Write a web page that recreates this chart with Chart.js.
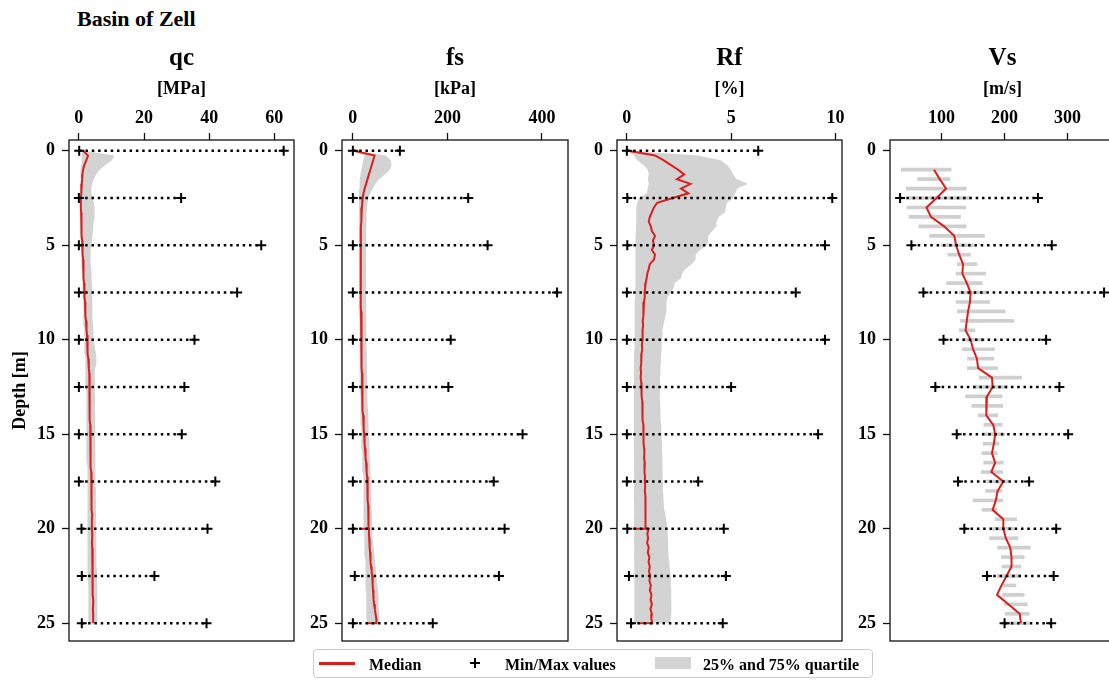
<!DOCTYPE html>
<html>
<head>
<meta charset="utf-8">
<title>Basin of Zell</title>
<script src="https://cdn.jsdelivr.net/npm/chart.js@4.4.1/dist/chart.umd.min.js"></script>
<style>
  html, body { margin: 0; padding: 0; width: 1109px; height: 680px; overflow: hidden; background: #fff; }
  body { position: relative; font-family: 'Liberation Serif', 'Times New Roman', serif; font-weight: bold; color: #000; }
  canvas { position: absolute; top: 40px; }
  #header { position: absolute; left: 77px; top: 8px; font-size: 22px; line-height: 22px; white-space: nowrap; }
  #legend { position: absolute; left: 313px; top: 649px; width: 560px; height: 29px; box-sizing: border-box;
            border: 1px solid #cccccc; border-radius: 4px; background: rgba(255,255,255,0.8); font-size: 16px; line-height: 16px; }
  #legend .item { position: absolute; white-space: nowrap; }
</style>
</head>
<body>
<div id="header">Basin of Zell</div>

<canvas id="qcChart" width="291" height="623" style="left:10px"></canvas>
<canvas id="fsChart" width="283" height="623" style="left:292px"></canvas>
<canvas id="rfChart" width="282" height="623" style="left:567px"></canvas>
<canvas id="vsChart" width="282" height="623" style="left:840px"></canvas>

<div id="legend">
  <div class="item" style="left:5px;top:12px;width:36px;height:2.5px;background:#d8201f"></div>
  <div class="item" style="left:55px;top:7px">Median</div>
  <div class="item" style="left:156px;top:12px;width:10px;height:2px;background:#000"></div>
  <div class="item" style="left:160px;top:8px;width:2px;height:10px;background:#000"></div>
  <div class="item" style="left:191px;top:7px">Min/Max values</div>
  <div class="item" style="left:341px;top:7px;width:36px;height:12px;background:#d3d3d3"></div>
  <div class="item" style="left:389px;top:7px">25% and 75% quartile</div>
</div>

<script>
// ---------- depth axis ----------
const depthTicks = [0, 5, 10, 15, 20, 25];

// CPT sampling grid [m]
const cptDepth = [
  0, 0.25, 0.5, 0.75, 1, 1.25, 1.5, 1.75, 2, 2.25,
  2.5, 2.75, 3, 3.25, 3.5, 3.75, 4, 4.25, 4.5, 4.75,
  5, 5.25, 5.5, 5.75, 6, 6.25, 6.5, 6.75, 7, 7.25,
  7.5, 7.75, 8, 8.25, 8.5, 8.75, 9, 9.25, 9.5, 9.75,
  10, 10.25, 10.5, 10.75, 11, 11.25, 11.5, 11.75, 12, 12.25,
  12.5, 12.75, 13, 13.25, 13.5, 13.75, 14, 14.25, 14.5, 14.75,
  15, 15.25, 15.5, 15.75, 16, 16.25, 16.5, 16.75, 17, 17.25,
  17.5, 17.75, 18, 18.25, 18.5, 18.75, 19, 19.25, 19.5, 19.75,
  20, 20.25, 20.5, 20.75, 21, 21.25, 21.5, 21.75, 22, 22.25,
  22.5, 22.75, 23, 23.25, 23.5, 23.75, 24, 24.25, 24.5, 24.75,
  25
];
// median grid with the rod joints at 20 m and 25 m (three / two readings at the same depth)
const cptMedianDepth = [...cptDepth.slice(0, 80), 20, 20, 20, ...cptDepth.slice(81, 100), 25, 25];

// depths of the min/max readings
const cptExtremeDepth = [0, 2.5, 5, 7.5, 10, 12.5, 15, 17.5, 20, 22.5, 25];
const vsExtremeDepth = [2.5, 5, 7.5, 10, 12.5, 15, 17.5, 20, 22.5, 25];

// ---------- qc [MPa] ----------
const qcTicks = [0, 20, 40, 60];
const qcMedian = [
  1.3, 2.8, 2.3, 1.7, 1.3, 1.1, 1.0, 0.9, 0.8, 0.7,
  0.6, 0.6, 0.6, 0.7, 0.7, 0.8, 0.8, 0.9, 0.9, 1.0,
  1.1, 1.1, 1.2, 1.3, 1.3, 1.4, 1.5, 1.5, 1.6, 1.7,
  1.7, 1.8, 1.9, 1.9, 2.0, 2.1, 2.2, 2.3, 2.4, 2.5,
  2.6, 2.6, 2.7, 2.8, 2.9, 3.0, 3.1, 3.2, 3.2, 3.3,
  3.3, 3.3, 3.2, 3.3, 3.4, 3.4, 3.3, 3.4, 3.5, 3.5,
  3.5, 3.5, 3.6, 3.6, 3.5, 3.7, 3.7, 3.7, 3.8, 3.8,
  3.8, 3.9, 3.9, 3.8, 3.9, 4.0, 4.0, 4.1, 4.0, 4.0,
  4.0, 4.1, 4.1, 4.0, 4.1, 4.2, 4.2, 4.2, 4.1, 4.2,
  4.3, 4.3, 4.2, 4.3, 4.3, 4.4, 4.4, 4.3, 4.4, 4.4,
  4.4
];
const qcQ25 = [
  1.0, 0.9, 0.8, 0.7, 0.6, 0.6, 0.5, 0.5, 0.4, 0.4,
  0.4, 0.4, 0.4, 0.4, 0.5, 0.5, 0.5, 0.6, 0.6, 0.6,
  0.7, 0.7, 0.8, 0.8, 0.9, 0.9, 1.0, 1.0, 1.1, 1.1,
  1.2, 1.2, 1.3, 1.3, 1.4, 1.4, 1.5, 1.5, 1.6, 1.6,
  1.7, 1.7, 1.8, 1.8, 1.9, 1.9, 2.0, 2.0, 2.1, 2.1,
  2.1, 2.2, 2.2, 2.2, 2.2, 2.3, 2.3, 2.3, 2.3, 2.3,
  2.3, 2.3, 2.4, 2.4, 2.4, 2.4, 2.4, 2.5, 2.5, 2.5,
  2.5, 2.5, 2.5, 2.6, 2.6, 2.6, 2.6, 2.6, 2.6, 2.7,
  2.7, 2.7, 2.7, 2.7, 2.7, 2.8, 2.8, 2.8, 2.8, 2.8,
  2.8, 2.8, 2.9, 2.9, 2.9, 2.9, 2.9, 2.9, 3.0, 3.0,
  3.0
];
const qcQ75 = [
  1.6, 10.9, 10.2, 8.2, 6.4, 5.3, 4.6, 4.1, 3.8, 3.9,
  4.2, 4.6, 4.8, 4.9, 4.8, 4.6, 4.4, 4.3, 4.2, 4.0,
  3.8, 3.6, 3.5, 3.6, 3.7, 3.8, 3.9, 4.0, 4.0, 4.1,
  4.1, 4.1, 4.2, 4.1, 4.2, 4.3, 4.3, 4.4, 4.4, 4.5,
  4.6, 4.8, 5.0, 5.3, 5.5, 5.3, 5.0, 4.9, 4.9, 5.0,
  4.9, 4.9, 5.0, 5.0, 4.9, 5.0, 5.1, 5.0, 5.0, 5.1,
  5.0, 5.1, 5.0, 5.1, 5.2, 5.1, 5.1, 5.2, 5.2, 5.1,
  5.2, 5.2, 5.3, 5.2, 5.3, 5.3, 5.2, 5.3, 5.4, 5.3,
  5.4, 5.4, 5.3, 5.4, 5.5, 5.4, 5.5, 5.5, 5.5, 5.6,
  5.5, 5.6, 5.6, 5.7, 5.6, 5.7, 5.7, 5.8, 5.7, 5.8,
  5.8
];
const qcMin = [0.1, 0.0, 0.0, 0.0, 0.0, 0.0, 0.0, 0.0, 0.8, 0.9, 0.9];
const qcMax = [62.9, 31.4, 56.0, 48.6, 35.5, 32.4, 31.6, 41.9, 39.5, 23.2, 39.2];

// ---------- fs [kPa] ----------
const fsTicks = [0, 200, 400];
const fsMedian = [
  2, 46, 43, 40, 37, 34, 31, 28, 25, 22.5,
  21, 20, 19, 18.5, 18, 17.5, 17, 17, 16.5, 16.8,
  16.7, 16.5, 16.8, 16.6, 16.7, 16.5, 16.7, 16.6, 16.8, 16.7,
  16.7, 16.9, 17.0, 17.2, 17.3, 17.5, 17.6, 17.8, 18.0, 18.1,
  18.2, 18.4, 18.6, 18.8, 19.0, 19.1, 19.3, 19.4, 19.5, 19.7,
  19.8, 20.0, 20.3, 20.6, 21.0, 21.4, 21.9, 22.4, 23.0, 23.5,
  24.0, 24.6, 25.0, 25.8, 26.5, 27.3, 28.0, 28.8, 29.5, 30.2,
  30.5, 31.0, 31.3, 31.7, 32.0, 32.4, 32.8, 33.0, 33.2, 33.4,
  33.5, 14, 34.2,
  34.0, 34.6, 35.2, 35.8, 36.4, 37.0, 37.8, 38.6, 39.8,
  41.0, 41.6, 42.2, 42.8, 43.4, 44.0, 45.0, 46.5, 48.0, 49.5,
  50.0, 30
];
const fsQ25 = [
  1, 25, 22, 20, 18, 16, 15, 14, 13.5, 13,
  13, 13, 13, 12.5, 12.5, 12.5, 12.5, 12.5, 12.5, 12.5,
  12.5, 12.5, 12.5, 12.5, 12.5, 12.5, 12.5, 12.5, 12.5, 12.5,
  12.5, 12.5, 13, 13, 13, 13, 13.5, 13.5, 13.5, 13.5,
  14, 14, 14, 14.5, 14.5, 14.5, 15, 15, 15, 15,
  15, 15, 15.5, 16, 16, 16.5, 16.5, 17, 17, 17.5,
  17.5, 18, 18.5, 19, 19.5, 20, 20, 20.5, 21, 21.5,
  21.5, 22, 22, 22.5, 22.5, 23, 23, 23, 23.5, 23.5,
  23.5, 24, 24, 24.5, 25, 25, 25.5, 26, 26, 26.5,
  27, 27, 27.5, 27.5, 28, 28, 28.5, 29, 29, 29.5,
  30
];
const fsQ75 = [
  4, 70, 80, 82, 78, 68, 56, 48, 42, 37,
  33, 31, 30, 29, 28.5, 28.5, 28, 28, 28, 28,
  28, 27.5, 28, 27.5, 28, 28, 27.5, 28, 28, 28.5,
  28, 28.5, 28.5, 28, 28.5, 29, 28.5, 29, 29, 29.5,
  29, 29.5, 29.5, 30, 29.5, 30, 30, 30.5, 30, 30.5,
  31, 31, 31.5, 32, 32, 32.5, 33, 33, 33.5, 34,
  34, 34.5, 35, 35.5, 36, 36, 36.5, 37, 37.5, 38,
  38, 38.5, 39, 39, 39.5, 40, 40, 40.5, 41, 41,
  41.5, 42, 42.5, 43, 44, 45, 46, 47, 48, 49,
  50, 51, 52, 53, 54, 54, 55, 55, 56, 56,
  56
];
const fsMin = [0, 0, 0, 0, 0, 0, 0, 0, 0, 4, 0];
const fsMax = [99.5, 244, 285, 432, 207, 202, 359, 298, 321, 309, 169];

// ---------- Rf [%] ----------
const rfTicks = [0, 5, 10];
const rfMedian = [
  0.05, 1.35, 1.75, 2.1, 2.45, 2.75, 2.4, 3.05, 2.6, 2.95,
  2.2, 1.45, 1.3, 1.2, 1.1, 1.05, 1.15, 1.2, 1.35, 1.25,
  1.3, 1.2, 1.35, 1.3, 1.1, 1.05, 0.98, 0.95, 0.9, 0.88,
  0.85, 0.86, 0.82, 0.8, 0.78, 0.8, 0.76, 0.78, 0.75, 0.77,
  0.74, 0.72, 0.74, 0.7, 0.68, 0.7, 0.66, 0.68, 0.66, 0.69,
  0.7, 0.72, 0.7, 0.74, 0.75, 0.73, 0.77, 0.76, 0.79, 0.78,
  0.8, 0.82, 0.8, 0.83, 0.84, 0.82, 0.86, 0.85, 0.84, 0.87,
  0.86, 0.88, 0.86, 0.89, 0.87, 0.9, 0.88, 0.9, 0.89, 0.91,
  0.9, 0.3, 1.05,
  0.98, 1.02, 0.97, 1.05, 1.0, 1.08, 1.04, 1.1, 1.06,
  1.12, 1.08, 1.15, 1.1, 1.18, 1.14, 1.2, 1.13, 1.2, 1.17,
  1.22, 0.53
];
const rfQ25 = [
  0.0, 0.35, 0.5, 0.8, 1.0, 1.05, 1.0, 1.05, 1.0, 0.95,
  0.6, 0.5, 0.46, 0.45, 0.44, 0.45, 0.43, 0.44, 0.42, 0.43,
  0.42, 0.43, 0.41, 0.42, 0.4, 0.42, 0.4, 0.41, 0.4, 0.4,
  0.39, 0.4, 0.38, 0.39, 0.38, 0.37, 0.38, 0.37, 0.36, 0.37,
  0.36, 0.35, 0.36, 0.34, 0.35, 0.34, 0.35, 0.33, 0.34, 0.34,
  0.33, 0.34, 0.33, 0.34, 0.33, 0.32, 0.33, 0.34, 0.33, 0.33,
  0.34, 0.33, 0.34, 0.33, 0.34, 0.35, 0.34, 0.33, 0.34, 0.35,
  0.34, 0.35, 0.34, 0.33, 0.34, 0.35, 0.34, 0.35, 0.34, 0.35,
  0.34, 0.35, 0.34, 0.35, 0.36, 0.35, 0.34, 0.35, 0.36, 0.35,
  0.36, 0.35, 0.36, 0.35, 0.36, 0.37, 0.36, 0.35, 0.36, 0.37,
  0.36
];
const rfQ75 = [
  0.1, 3.4, 4.5, 4.8, 5.0, 5.1, 5.25, 5.8, 5.3, 5.2,
  5.1, 4.8, 4.75, 4.7, 4.4, 4.3, 4.3, 4.1, 3.9, 3.9,
  3.85, 3.5, 3.3, 3.3, 3.1, 2.8, 2.65, 2.6, 2.3, 2.25,
  2.1, 1.95, 1.9, 1.88, 1.9, 1.85, 1.8, 1.75, 1.7, 1.72,
  1.68, 1.66, 1.64, 1.65, 1.62, 1.64, 1.6, 1.62, 1.58, 1.6,
  1.58, 1.6, 1.57, 1.6, 1.62, 1.6, 1.63, 1.62, 1.65, 1.64,
  1.66, 1.68, 1.7, 1.68, 1.7, 1.72, 1.7, 1.72, 1.71, 1.73,
  1.72, 1.74, 1.73, 1.75, 1.76, 1.78, 1.8, 1.85, 1.88, 1.92,
  1.95, 1.97, 1.96, 1.98, 2.0, 1.98, 2.02, 2.04, 2.05, 2.08,
  2.1, 2.12, 2.1, 2.13, 2.12, 2.14, 2.12, 2.15, 2.13, 2.1,
  2.08
];
const rfMin = [0, 0.02, 0.02, 0, 0, 0, 0, 0, 0.02, 0.1, 0.2];
const rfMax = [6.3, 9.85, 9.5, 8.1, 9.5, 5.0, 9.17, 3.42, 4.65, 4.75, 4.6];

// ---------- Vs [m/s] ----------
const vsTicks = [100, 200, 300];
const vsDepth = [
  1, 1.5, 2, 2.5, 3, 3.5, 4, 4.5, 5, 5.5,
  6, 6.5, 7, 7.5, 8, 8.5, 9, 9.5, 10, 10.5,
  11, 11.5, 12, 12.5, 13, 13.5, 14, 14.5, 15, 15.5,
  16, 16.5, 17, 17.5, 18, 18.5, 19, 19.5, 20, 20.5,
  21, 21.5, 22, 22.5, 23, 23.5, 24, 24.5, 25
];
const vsMedian = [
  88, 97, 107, 92, 76, 83, 104, 120, 123, 128,
  134, 133, 140, 146, 145, 142, 140, 138, 146, 150,
  156, 158, 180, 181, 172, 171, 171, 182, 185, 183,
  180, 185, 179, 198, 189, 186, 181, 198, 198, 202,
  209, 211, 211, 203, 195, 188, 206, 224, 226
];
const vsQ25 = [
  36, 62, 44, 48, 45, 48, 64, 81, 100, 110,
  125, 123, 108, 128, 123, 125, 130, 128, 135, 133,
  141, 141, 160, 150, 138, 148, 158, 167, 165, 166,
  164, 167, 163, 172, 170, 150, 164, 185, 180, 176,
  189, 195, 196, 188, 198, 197, 200, 201, 196
];
const vsQ75 = [
  115, 113, 139, 145, 138, 130, 139, 168, 150, 146,
  156, 170, 164, 170, 176, 201, 215, 153, 168, 184,
  183, 189, 227, 205, 196, 197, 189, 196, 200, 191,
  188, 198, 197, 205, 196, 197, 188, 219, 215, 221,
  241, 231, 226, 225, 218, 231, 236, 239, 238
];
const vsMin = [34, 52, 71, 103, 90, 124, 126, 136, 172, 200];
const vsMax = [253, 275, 358, 266, 287, 301, 239, 282, 278, 274];

// ---------- styling ----------
const FONT = "'Liberation Serif', 'Times New Roman', serif";
const MEDIAN_RED = '#d8201f';
const BAND_GREY = '#d3d3d3';

Chart.defaults.font.family = FONT;
Chart.defaults.font.weight = 'bold';
Chart.defaults.color = '#000';

// black frame round the plotting area
const framePlugin = {
  id: 'frame',
  afterDatasetsDraw(chart) {
    const { ctx, chartArea: a } = chart;
    ctx.save();
    ctx.strokeStyle = '#111';
    ctx.lineWidth = 1.3;
    ctx.strokeRect(a.left, a.top, a.right - a.left, a.bottom - a.top);
    ctx.restore();
  }
};

const toPoints = (depths, values) => depths.map((d, i) => ({ x: values[i], y: d }));

// min and max joined by a dotted line at each depth, broken between depths
const extremePoints = (depths, mins, maxs) =>
  depths.flatMap((d, i) => [{ x: mins[i], y: d }, { x: maxs[i], y: d }, { x: null, y: d }]);

function extremeDataset(depths, mins, maxs) {
  return {
    label: 'Min/Max values',
    data: extremePoints(depths, mins, maxs),
    borderColor: '#000',
    borderWidth: 2.5,
    borderDash: [2.5, 3.8],
    borderCapStyle: 'butt',
    pointStyle: 'cross',
    pointRadius: 5,
    pointBorderWidth: 2,
    pointBorderColor: '#000',
    pointBackgroundColor: '#000',
    fill: false,
    spanGaps: false,
    tension: 0
  };
}

function medianDataset(depths, values) {
  return {
    label: 'Median',
    data: toPoints(depths, values),
    borderColor: MEDIAN_RED,
    borderWidth: 2,
    pointRadius: 0,
    fill: false,
    tension: 0
  };
}

function makePanel(canvasId, opt) {
  const yLeftWidth = opt.yTitle ? 59 : 50;
  new Chart(document.getElementById(canvasId), {
    type: 'line',
    data: { datasets: opt.datasets },
    plugins: [framePlugin],
    options: {
      indexAxis: 'y',
      responsive: false,
      animation: false,
      devicePixelRatio: 1,
      layout: { padding: { left: 0, top: 0, right: 4, bottom: 22 } },
      events: [],
      plugins: {
        legend: { display: false },
        tooltip: { enabled: false },
        title: {
          display: true, text: opt.title, fullSize: false, color: '#000',
          font: { family: FONT, size: 25, weight: 'bold' },
          padding: { top: 4, bottom: 0 }
        },
        subtitle: {
          display: true, text: opt.unit, fullSize: false, color: '#000',
          font: { family: FONT, size: 18, weight: 'bold' },
          padding: { top: 5, bottom: 0 }
        }
      },
      scales: {
        x: {
          type: 'linear', position: 'top',
          min: opt.xMin, max: opt.xMax, offset: false,
          afterBuildTicks: s => { s.ticks = opt.xTicks.map(v => ({ value: v })); },
          afterFit: s => { s.height = 39.4; },
          ticks: { autoSkip: false, maxRotation: 0, padding: 4, color: '#000',
                   font: { family: FONT, size: 18, weight: 'bold' } },
          grid: { display: true, drawOnChartArea: false, drawTicks: true, offset: false,
                  tickLength: 7, tickWidth: 1.3, tickColor: '#111' },
          border: { display: false }
        },
        y: {
          type: 'linear', position: 'left', reverse: true,
          min: -0.57, max: 25.94, offset: false,
          afterBuildTicks: s => { s.ticks = depthTicks.map(v => ({ value: v })); },
          afterFit: s => { s.width = yLeftWidth; },
          ticks: { autoSkip: false, padding: 7, color: '#000',
                   font: { family: FONT, size: 18, weight: 'bold' } },
          grid: { display: true, drawOnChartArea: false, drawTicks: true, offset: false,
                  tickLength: 7, tickWidth: 1.3, tickColor: '#111' },
          border: { display: false },
          title: opt.yTitle
            ? { display: true, text: opt.yTitle, color: '#000', padding: 0,
                font: { family: FONT, size: 18, weight: 'bold' } }
            : { display: false }
        }
      }
    }
  });
}

// CPT panels: dotted extremes on top, then median, then the quartile band
function cptDatasets(medDepth, med, q25, q75, mins, maxs) {
  return [
    extremeDataset(cptExtremeDepth, mins, maxs),
    medianDataset(medDepth, med),
    { label: '25% quartile', data: toPoints(cptDepth, q25), borderWidth: 0,
      borderColor: 'rgba(0,0,0,0)', pointRadius: 0, fill: false, tension: 0 },
    { label: '75% quartile', data: toPoints(cptDepth, q75), borderWidth: 0,
      borderColor: 'rgba(0,0,0,0)', backgroundColor: BAND_GREY, pointRadius: 0,
      fill: '-1', tension: 0 }
  ];
}

makePanel('qcChart', {
  title: 'qc', unit: '[MPa]', yTitle: 'Depth [m]',
  xMin: -3.03, xMax: 66.06, xTicks: qcTicks,
  datasets: cptDatasets(cptDepth, qcMedian, qcQ25, qcQ75, qcMin, qcMax)
});

makePanel('fsChart', {
  title: 'fs', unit: '[kPa]',
  xMin: -22.96, xMax: 455.1, xTicks: fsTicks,
  datasets: cptDatasets(cptMedianDepth, fsMedian, fsQ25, fsQ75, fsMin, fsMax)
});

makePanel('rfChart', {
  title: 'Rf', unit: '[%]',
  xMin: -0.473, xMax: 10.317, xTicks: rfTicks,
  datasets: cptDatasets(cptMedianDepth, rfMedian, rfQ25, rfQ75, rfMin, rfMax)
});

makePanel('vsChart', {
  title: 'Vs', unit: '[m/s]',
  xMin: 18.0, xMax: 375.4, xTicks: vsTicks,
  datasets: [
    extremeDataset(vsExtremeDepth, vsMin, vsMax),
    medianDataset(vsDepth, vsMedian),
    {
      type: 'bar', indexAxis: 'y', label: '25% and 75% quartile',
      data: vsDepth.map((d, i) => ({ y: d, x: [vsQ25[i], vsQ75[i]] })),
      backgroundColor: '#cfcfcf', borderWidth: 0, barThickness: 3
    }
  ]
});
</script>
</body>
</html>
